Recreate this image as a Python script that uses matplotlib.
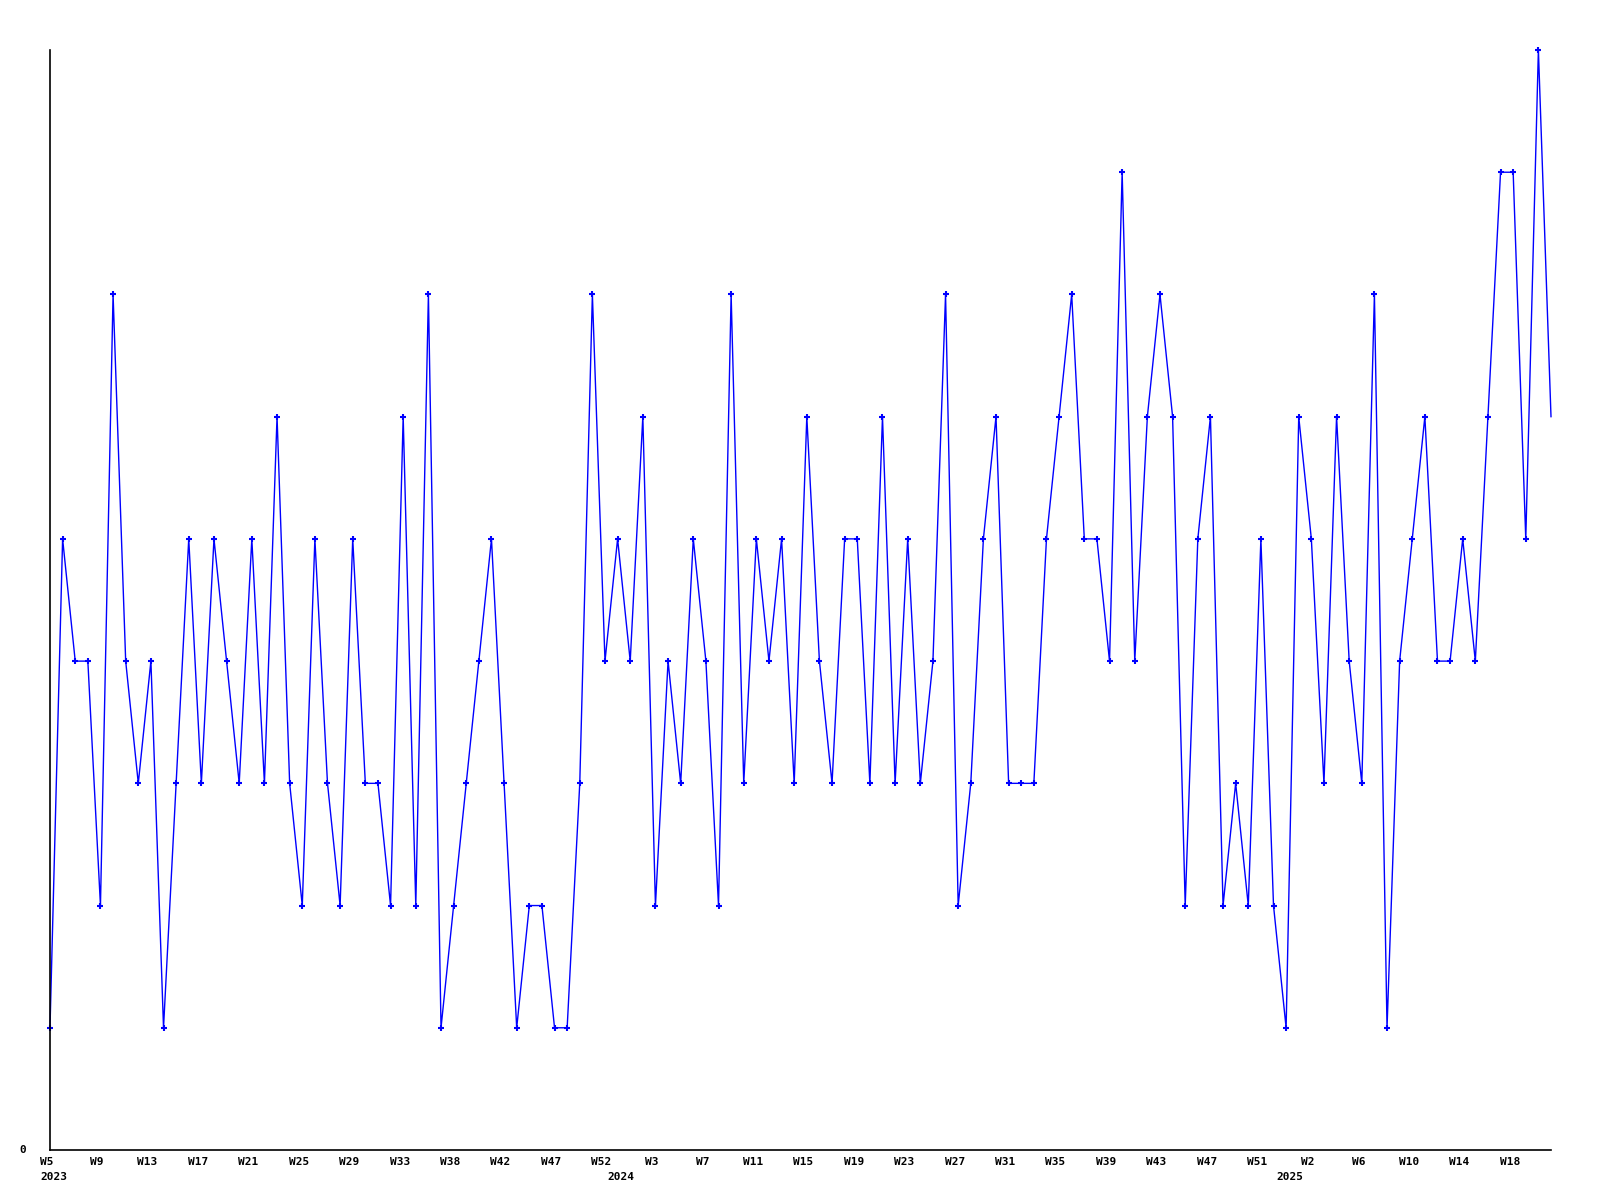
import numpy as np
import matplotlib
matplotlib.use('Agg')
import matplotlib.pyplot as plt
import matplotlib.transforms as mtransforms

# weekly counts, 2023 W5 onwards
values = [1, 5, 4, 4, 2, 7, 4, 3, 4, 1,
          3, 5, 3, 5, 4, 3, 5, 3, 6, 3,
          2, 5, 3, 2, 5, 3, 3, 2, 6, 2,
          7, 1, 2, 3, 4, 5, 3, 1, 2, 2,
          1, 1, 3, 7, 4, 5, 4, 6, 2, 4,
          3, 5, 4, 2, 7, 3, 5, 4, 5, 3,
          6, 4, 3, 5, 5, 3, 6, 3, 5, 3,
          4, 7, 2, 3, 5, 6, 3, 3, 3, 5,
          6, 7, 5, 5, 4, 8, 4, 6, 7, 6,
          2, 5, 6, 2, 3, 2, 5, 2, 1, 6,
          5, 3, 6, 4, 3, 7, 1, 4, 5, 6,
          4, 4, 5, 4, 6, 8, 8, 5, 9, 6]

week_labels = ['W5', 'W9', 'W13', 'W17', 'W21', 'W25', 'W29', 'W33', 'W38', 'W42',
               'W47', 'W52', 'W3', 'W7', 'W11', 'W15', 'W19', 'W23', 'W27', 'W31',
               'W35', 'W39', 'W43', 'W47', 'W51', 'W2', 'W6', 'W10', 'W14', 'W18']
week_label_pos = list(range(0, 4 * len(week_labels), 4))

years = ['2023', '2024', '2025']
year_pos = [0, 45, 98]

fnt = dict(family='DejaVu Sans Mono', weight='bold', size=8)

fig = plt.figure(figsize=(16, 12), dpi=100)
ax = fig.add_axes([50 / 1600, 1 - 1150 / 1200, 1501 / 1600, 1100 / 1200])

x = np.arange(len(values))
ax.plot(x, values, color='#0000ff', lw=1, clip_on=False)
# last (partial) week has no marker
ax.plot(x[:-1], values[:-1], ls='none', marker='+', ms=4, mew=1.5,
        color='#0000ff', clip_on=False)

ax.set_xlim(0, len(values) - 1)
ax.set_ylim(0, 9)
for s in ['top', 'right']:
    ax.spines[s].set_visible(False)
for s in ['left', 'bottom']:
    ax.spines[s].set_linewidth(1.2)
    ax.spines[s].set_color('black')

ax.set_xticks([])
ax.set_yticks([])

off = mtransforms.ScaledTranslation(-3.5 / 100, 0, fig.dpi_scale_trans)
trans = mtransforms.blended_transform_factory(ax.transData, fig.transFigure)
for p, lab in zip(week_label_pos, week_labels):
    ax.text(p, 1 - 1162 / 1200, lab, transform=trans + off,
            ha='center', va='center', **fnt)

yoff = mtransforms.ScaledTranslation(-10 / 100, 0, fig.dpi_scale_trans)
for p, lab in zip(year_pos, years):
    ax.text(p, 1 - 1177 / 1200, lab, transform=trans + yoff,
            ha='left', va='center', **fnt)

fig.text(22.5 / 1600, 1 - 1150 / 1200, '0', ha='center', va='center', **fnt)

fig.savefig('out.png', dpi=100, facecolor='white')
plt.close(fig)
